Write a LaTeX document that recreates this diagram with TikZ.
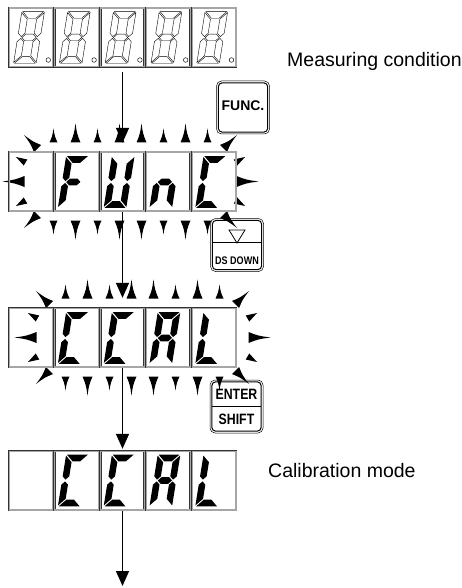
\documentclass[tikz,border=0pt]{standalone}
\usepackage{fontspec}
\setmainfont{Liberation Sans}
\newfontfamily\keyfont[FakeStretch=0.82]{Liberation Sans}
\usetikzlibrary{arrows.meta,calc}

% seven-segment pieces (local units, y grows downwards)
\newcommand{\sega}[1]{\path[#1] (-10.4,-25.8) -- (10.4,-25.8) -- (3.8,-19.2) -- (-3.8,-19.2) -- cycle;}
\newcommand{\segd}[1]{\path[#1] (-10.4,25.8) -- (10.4,25.8) -- (3.8,19.2) -- (-3.8,19.2) -- cycle;}
\newcommand{\segg}[1]{\path[#1] (-7.1,0) -- (-3.8,-3.3) -- (3.8,-3.3) -- (7.1,0) -- (3.8,3.3) -- (-3.8,3.3) -- cycle;}
\newcommand{\segf}[1]{\path[#1] (-11.3,-24.9) -- (-4.7,-18.3) -- (-4.7,-4.2) -- (-8,-0.9) -- (-11.3,-4.2) -- cycle;}
\newcommand{\segb}[1]{\path[#1] (11.3,-24.9) -- (4.7,-18.3) -- (4.7,-4.2) -- (8,-0.9) -- (11.3,-4.2) -- cycle;}
\newcommand{\sege}[1]{\path[#1] (-11.3,24.9) -- (-4.7,18.3) -- (-4.7,4.2) -- (-8,0.9) -- (-11.3,4.2) -- cycle;}
\newcommand{\segc}[1]{\path[#1] (11.3,24.9) -- (4.7,18.3) -- (4.7,4.2) -- (8,0.9) -- (11.3,4.2) -- cycle;}
% one slanted character: centre, segment list, style
\newcommand{\lcdchar}[3]{\begin{scope}[shift={#1}, xslant=0.16]
  \edef\seglist{#2}\foreach \s in \seglist {\csname seg\s\endcsname{#3}}
  \end{scope}}
% the five cells of a display, centre line y
\newcommand{\lcdcells}[1]{\foreach \i in {0,...,4}{
  \draw[cell] (9.05+45.8*\i,#1-29.45) rectangle (52.75+45.8*\i,#1+29.45);}}
% blink spike: x, y, angle, length, half width
\newcommand{\spike}[5]{\fill[shift={(#1,#2)}, rotate=#3] (0,-#5)
  .. controls (0.45*#4,-0.3*#5) .. (#4,0) .. controls (0.45*#4,0.3*#5) .. (0,#5) -- cycle;}
% ring of spikes round a blinking word
\newcommand{\blink}[2]{%
  \foreach \dx/\len/\hw in {-77/14/4, -55/19/5, -33/14/4, -11/19/5,
                            11/19/5, 33/14/4, 55/19/5, 77/14/4}{
    \spike{#1+\dx}{#2-39}{90}{\len}{\hw}
    \spike{#1+\dx}{#2+39}{270}{\len}{\hw}}
  \foreach \sx/\a/\up/\dn/\cu/\cd in {-1/180/150/210/135/225, 1/0/30/330/45/315}{
    \spike{#1+106*\sx}{#2}{\a}{22}{5.5}
    \spike{#1+105*\sx}{#2-19}{\up}{11}{3.5}
    \spike{#1+105*\sx}{#2+19}{\dn}{11}{3.5}
    \spike{#1+93*\sx}{#2-33}{\cu}{19}{5}
    \spike{#1+93*\sx}{#2+33}{\cd}{19}{5}}}

\begin{document}
\begin{tikzpicture}[x=1pt, y=-1pt,
  cell/.style={draw=black!80, line width=0.45pt, double=black!35, double distance=1.1pt},
  dispbox/.style={minimum width=229pt, minimum height=61pt, inner sep=0pt},
  keybox/.style={draw, rounded corners=5pt, line width=0.5pt,
                 minimum width=53pt, minimum height=53pt, inner sep=0pt},
  keyin/.style={draw, rounded corners=3.5pt, line width=1pt},
  keytext/.style={font=\keyfont\bfseries\fontsize{15}{15}\selectfont, inner sep=0pt},
  lbl/.style={font=\fontsize{19.5}{20}\selectfont, inner sep=0pt},
  flow/.style={line width=1.4pt, -{Triangle[length=15pt, width=13pt]}},
  segline/.style={draw=black, line width=0.4pt, fill=white},
  segfill/.style={fill=black},
]
\useasboundingbox (0,0) rectangle (462,588);

% ===== display 1: measuring condition =====
\node[dispbox] (d1) at (122.5,37.5) {};
\lcdcells{37.5}
\foreach \i in {0,...,4}{
  \lcdchar{(29+45.8*\i,37.5)}{a,b,c,d,e,f,g}{segline}
  \draw[line width=0.45pt] (48.3+45.8*\i,60) circle (2.3);
}
\node[lbl, anchor=base west] (meas) at (287,67) {Measuring condition};

% FUNC key
\node[keybox, font=\bfseries\fontsize{14}{14}\selectfont] (func) at (243,107.5) {\raisebox{4pt}{FUNC.}};

% ===== display 2: FUnC blinking =====
\node[dispbox] (d2) at (122.5,181.5) {};
\blink{130.5}{181.5}
\lcdcells{181.5}
\foreach \i/\segs in {1/{a,f,g,e}, 2/{b,c,d,e,f}, 3/{e,g,c}, 4/{a,f,e,d}}
  \lcdchar{(27.5+45.8*\i,182)}{\segs}{segfill};

% DS DOWN key
\node[keybox] (dsdown) at (237,245) {};
\draw[line width=0.8pt] ($(dsdown.center)+(-8,-15)$) -- ($(dsdown.center)+(8,-15)$)
  -- ($(dsdown.center)+(0,-2)$) -- cycle;
\draw[line width=0.9pt] ([shift={(2,-3)}]dsdown.west) -- ([shift={(-2,-3)}]dsdown.east);
\node[keytext, font=\keyfont\bfseries\fontsize{11}{11}\selectfont] (dslbl) at ($(dsdown.center)+(0,16)$) {DS DOWN};

% ===== display 3: CCAL blinking =====
\node[dispbox] (d3) at (122.5,337.5) {};
\blink{142.5}{337.5}
\lcdcells{337.5}
\foreach \i/\segs in {1/{a,f,e,d}, 2/{a,f,e,d}, 3/{a,b,c,e,f,g}, 4/{f,e,d}}
  \lcdchar{(27.5+45.8*\i,338)}{\segs}{segfill};

% ENTER / SHIFT key
\node[keybox] (entsh) at (236.5,406.5) {};
\draw[line width=0.9pt] ([xshift=2pt]entsh.west) -- ([xshift=-2pt]entsh.east);
\node[keytext] (entlbl) at ($(entsh.center)+(0,-12)$) {ENTER};
\node[keytext] (shlbl) at ($(entsh.center)+(0,13)$) {SHIFT};

% inner rim of the three keys
\foreach \k in {func,dsdown,entsh}
  \draw[keyin] ($(\k.north west)+(2.2,2.2)$) rectangle ($(\k.south east)+(-2.2,-2.2)$);

% ===== display 4: calibration mode =====
\node[dispbox] (d4) at (122.5,480.5) {};
\lcdcells{480.5}
\foreach \i/\segs in {1/{a,f,e,d}, 2/{a,f,e,d}, 3/{a,b,c,e,f,g}, 4/{f,e,d}}
  \lcdchar{(27.5+45.8*\i,480.5)}{\segs}{segfill};
\node[lbl, anchor=base west] (calib) at (268,477) {Calibration mode};

% flow arrows
\coordinate (tail) at (122.5,586);
\draw[flow] ([yshift=-4pt]d1.south) -- ([yshift=8pt]d2.north);
\draw[flow] (d2.south) -- ([yshift=9pt]d3.north);
\draw[flow] (d3.south) -- ([yshift=1pt]d4.north);
\draw[flow] (d4.south) -- (tail);
\end{tikzpicture}
\end{document}
